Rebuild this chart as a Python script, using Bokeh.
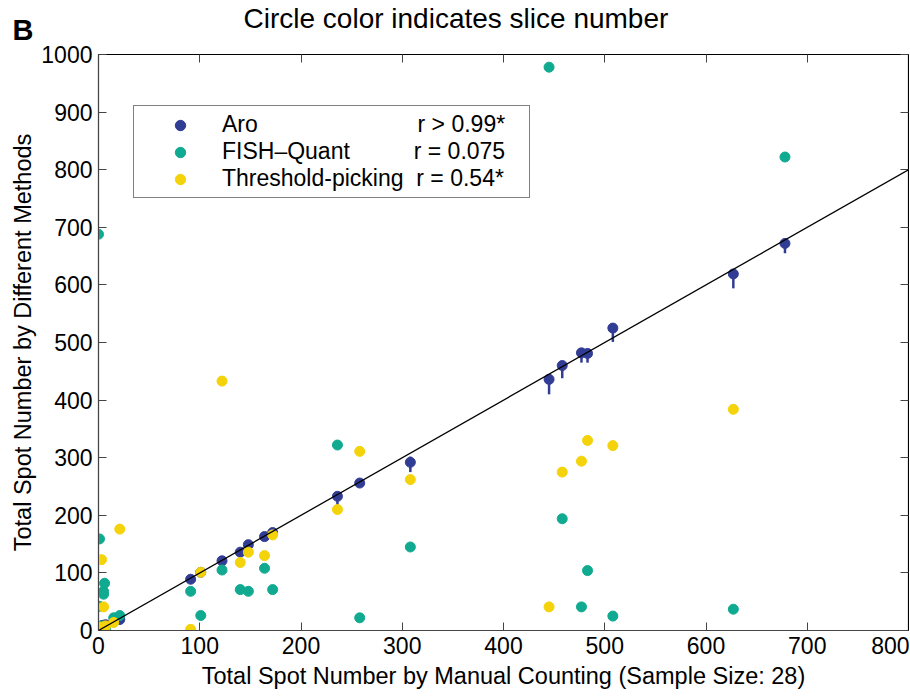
from bokeh.plotting import figure
from bokeh.models import ColumnDataSource, Range1d, FixedTicker, LinearAxis, Slope, Title
from bokeh.embed import file_html
from bokeh.resources import INLINE

# ---- data ----
manual = [0, 1, 1, 3, 4, 5, 5, 6, 7, 15, 21, 91, 101, 122, 140, 148, 164, 172,
          236, 258, 308, 445, 458, 477, 483, 508, 627, 678]
aro = [2, 3, 1, 5, 9, 6, 7, 8, 10, 15, 19, 89, 101, 121, 136, 149, 163, 170,
       233, 256, 292, 436, 460, 482, 481, 525, 619, 672]
aro_lo = [2, 3, 1, 5, 4, 6, 7, 8, 10, 15, 19, 89, 99, 121, 132, 146, 156, 163,
          218, 250, 275, 410, 438, 465, 465, 501, 594, 655]
aro_hi = [2, 3, 1, 5, 15, 6, 7, 8, 10, 15, 19, 89, 103, 121, 140, 152, 170, 177,
          236, 262, 302, 436, 460, 482, 481, 525, 619, 672]
fish = [688, 159, 42, 8, 5, 68, 63, 82, 4, 22, 26, 68, 26, 105, 71, 68, 108, 71,
        322, 22, 145, 978, 194, 41, 104, 25, 37, 822]
thresh = [3, 0, 6, 123, 3, 41, 6, 5, 8, 14, 176, 2, 101, 433, 118, 136, 130, 166,
          210, 311, 262, 41, 275, 294, 330, 321, 384, float("nan")]

series_names = ["Aro", "FISH\u2013Quant", "Threshold-picking"]
r_labels = ["r > 0.99*", "r = 0.075", "r = 0.54*"]
x_ticks = [0, 100, 200, 300, 400, 500, 600, 700, 800]
y_ticks = [0, 100, 200, 300, 400, 500, 600, 700, 800, 900, 1000]

title_text = "Circle color indicates slice number"
panel_letter = "B"
x_label = "Total Spot Number by Manual Counting (Sample Size: 28)"
y_label = "Total Spot Number by Different Methods"

# ---- styling ----
FONT = "Liberation Sans"
BLUE = "#313c95"
TEAL = "#10aa91"
YELLOW = "#f4d30a"
NB = "\u00a0"

src = ColumnDataSource(dict(x=manual, aro=aro, lo=aro_lo, hi=aro_hi, fish=fish, thr=thresh))

p = figure(frame_width=810, frame_height=576,
           x_range=Range1d(0, 800), y_range=Range1d(0, 1000),
           output_backend="svg", toolbar_location=None,
           min_border_left=98, min_border_right=1, min_border_top=54, min_border_bottom=67,
           background_fill_color="white", border_fill_color="white")

p.xgrid.visible = False
p.ygrid.visible = False
p.outline_line_color = "black"
p.outline_line_width = 1.2

for ax, ticks in ((p.xaxis[0], x_ticks), (p.yaxis[0], y_ticks)):
    ax.ticker = FixedTicker(ticks=ticks)
    ax.major_tick_in = 8
    ax.major_tick_out = 0
    ax.minor_tick_line_color = None
    ax.major_label_text_font = FONT
    ax.major_label_text_font_size = "23px"
    ax.major_label_text_color = "black"
    ax.axis_label_text_font = FONT
    ax.axis_label_text_font_size = "23.5px"
    ax.axis_label_text_font_style = "normal"
    ax.axis_label_text_color = "black"
    ax.axis_line_color = "#444444"
    ax.major_tick_line_color = "#444444"
    ax.major_label_standoff = 6

p.xaxis[0].axis_label = x_label
p.yaxis[0].axis_label = y_label
p.xaxis[0].axis_label_standoff = 6
p.yaxis[0].axis_label_standoff = 2

for loc, ticks in (("above", x_ticks), ("right", y_ticks)):
    ax = LinearAxis(ticker=FixedTicker(ticks=ticks), major_tick_in=8, major_tick_out=0,
                    minor_tick_line_color=None, major_label_text_font_size="0px",
                    major_label_standoff=0, axis_line_color="black",
                    major_tick_line_color="#444444")
    ax.major_label_overrides = {t: "" for t in ticks}
    p.add_layout(ax, loc)

# panel letter, placed in the top margin next to the main title
p.add_layout(Title(text=panel_letter, align="left", offset=-86, standoff=18,
                   text_font=FONT, text_font_size="29px", text_font_style="bold",
                   text_color="black"), "above")

p.title.text = title_text
p.title.text_font = FONT
p.title.text_font_size = "28px"
p.title.text_font_style = "normal"
p.title.text_color = "black"
p.title.align = "left"
p.title.offset = 145
p.title.standoff = -62

p.add_layout(Slope(gradient=1, y_intercept=0, line_color="black", line_width=1.3))

p.segment(x0="x", y0="lo", x1="x", y1="hi", source=src, line_color=BLUE, line_width=2.5)

lab = [series_names[0] + NB * 25 + r_labels[0] + NB * 3,
       series_names[1] + NB * 10 + r_labels[1] + NB * 3,
       series_names[2] + NB * 2 + r_labels[2] + NB * 3]

p.scatter(x="x", y="aro", source=src, size=10, fill_color=BLUE, line_color=BLUE, legend_label=lab[0])
p.scatter(x="x", y="fish", source=src, size=10, fill_color=TEAL, line_color=TEAL, legend_label=lab[1])
p.scatter(x="x", y="thr", source=src, size=10, fill_color=YELLOW, line_color=YELLOW, legend_label=lab[2])

lg = p.legend[0]
lg.location = (35, 432)
lg.label_text_font = FONT
lg.label_text_font_size = "23px"
lg.label_text_color = "black"
lg.glyph_width = 82
lg.glyph_height = 26
lg.label_height = 26
lg.label_standoff = 1
lg.spacing = 0
lg.padding = 5
lg.margin = 0
lg.border_line_color = "black"
lg.border_line_width = 1.3
lg.background_fill_alpha = 1.0

open("out.html", "w").write(file_html(p, INLINE))
